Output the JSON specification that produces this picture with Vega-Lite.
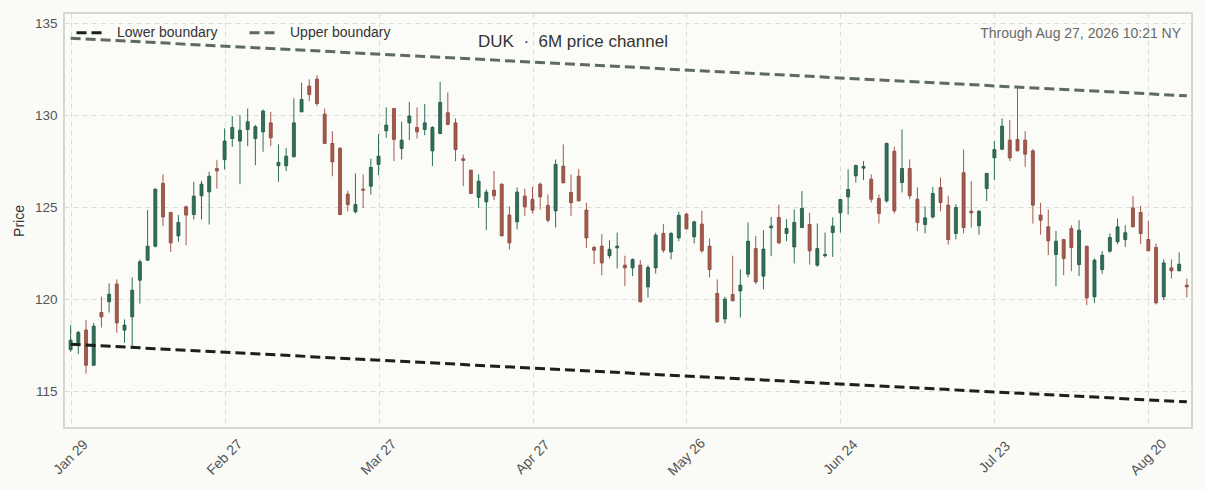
{
  "$schema": "https://vega.github.io/schema/vega-lite/v6.json",
  "width": 1128,
  "height": 415,
  "autosize": {"type": "none"},
  "padding": {"left": 64, "top": 13, "right": 13, "bottom": 62},
  "background": "#fafaf7",
  "config": {
    "font": "Liberation Sans",
    "view": {"stroke": "#d6d6d3", "strokeWidth": 2, "fill": "#fbfbf8"},
    "axis": {
      "domain": false,
      "grid": true,
      "gridColor": "#dcdcdc",
      "gridDash": [5, 4],
      "gridWidth": 1,
      "ticks": false,
      "labelFontSize": 13.5,
      "labelColor": "#555555",
      "titleFontSize": 14,
      "titleColor": "#333333",
      "titleFontWeight": "normal"
    },
    "legend": {
      "direction": "horizontal",
      "symbolType": "stroke",
      "symbolStrokeWidth": 3,
      "symbolSize": 900,
      "labelFontSize": 14,
      "labelColor": "#333333",
      "labelOffset": 9,
      "columnPadding": 25,
      "padding": 0
    }
  },
  "title": {
    "text": "DUK\u00a0\u00a0·\u00a0\u00a06M price channel",
    "frame": "group",
    "anchor": "middle",
    "dx": -55,
    "offset": -38,
    "fontSize": 17,
    "fontWeight": "normal",
    "color": "#333333"
  },
  "datasets": {
    "candles": [
      {"i": 0, "o": 117.26, "h": 118.59, "l": 117.14, "c": 117.77},
      {"i": 1, "o": 117.59, "h": 118.28, "l": 117.01, "c": 118.19},
      {"i": 2, "o": 118.32, "h": 118.86, "l": 115.96, "c": 116.41},
      {"i": 3, "o": 116.41, "h": 118.71, "l": 116.38, "c": 118.53},
      {"i": 4, "o": 119.28, "h": 120.13, "l": 118.46, "c": 119.04},
      {"i": 5, "o": 119.86, "h": 120.85, "l": 119.28, "c": 120.27},
      {"i": 6, "o": 120.82, "h": 121.07, "l": 118.17, "c": 118.71},
      {"i": 7, "o": 118.32, "h": 118.9, "l": 117.63, "c": 118.59},
      {"i": 8, "o": 119.04, "h": 121.18, "l": 117.45, "c": 120.49},
      {"i": 9, "o": 121.03, "h": 122.16, "l": 119.76, "c": 122.03},
      {"i": 10, "o": 122.12, "h": 124.84, "l": 122.08, "c": 122.88},
      {"i": 11, "o": 122.88, "h": 126.01, "l": 122.81, "c": 125.98},
      {"i": 12, "o": 126.29, "h": 126.79, "l": 123.97, "c": 124.47},
      {"i": 13, "o": 124.71, "h": 124.75, "l": 122.57, "c": 123.06},
      {"i": 14, "o": 123.44, "h": 124.57, "l": 123.12, "c": 124.17},
      {"i": 15, "o": 125.02, "h": 125.09, "l": 122.93, "c": 124.57},
      {"i": 16, "o": 124.6, "h": 126.38, "l": 124.33, "c": 125.6},
      {"i": 17, "o": 125.62, "h": 126.43, "l": 124.33, "c": 126.25},
      {"i": 18, "o": 125.83, "h": 126.92, "l": 124.06, "c": 126.68},
      {"i": 19, "o": 127.1, "h": 127.55, "l": 126.01, "c": 126.97},
      {"i": 20, "o": 127.59, "h": 129.28, "l": 127.05, "c": 128.59},
      {"i": 21, "o": 128.73, "h": 129.95, "l": 128.28, "c": 129.33},
      {"i": 22, "o": 128.59, "h": 130.0, "l": 126.25, "c": 129.18},
      {"i": 23, "o": 129.22, "h": 130.36, "l": 128.32, "c": 129.64},
      {"i": 24, "o": 128.73, "h": 129.46, "l": 127.28, "c": 129.37},
      {"i": 25, "o": 129.09, "h": 130.31, "l": 128.01, "c": 130.22},
      {"i": 26, "o": 129.58, "h": 130.18, "l": 128.32, "c": 128.77},
      {"i": 27, "o": 127.25, "h": 128.41, "l": 126.38, "c": 127.43},
      {"i": 28, "o": 127.25, "h": 128.22, "l": 126.96, "c": 127.77},
      {"i": 29, "o": 127.74, "h": 130.91, "l": 127.7, "c": 129.58},
      {"i": 30, "o": 130.18, "h": 131.76, "l": 130.16, "c": 130.85},
      {"i": 31, "o": 131.58, "h": 131.94, "l": 130.76, "c": 131.12},
      {"i": 32, "o": 131.96, "h": 132.17, "l": 130.49, "c": 130.63},
      {"i": 33, "o": 130.05, "h": 130.36, "l": 128.42, "c": 128.46},
      {"i": 34, "o": 128.46, "h": 129.13, "l": 126.68, "c": 127.46},
      {"i": 35, "o": 128.19, "h": 128.28, "l": 124.57, "c": 124.6},
      {"i": 36, "o": 125.71, "h": 125.89, "l": 124.78, "c": 125.14},
      {"i": 37, "o": 124.75, "h": 126.83, "l": 124.66, "c": 125.14},
      {"i": 38, "o": 125.98, "h": 126.78, "l": 124.96, "c": 125.92},
      {"i": 39, "o": 126.14, "h": 127.64, "l": 125.69, "c": 127.16},
      {"i": 40, "o": 127.32, "h": 128.97, "l": 126.74, "c": 127.77},
      {"i": 41, "o": 129.15, "h": 130.42, "l": 128.77, "c": 129.46},
      {"i": 42, "o": 130.36, "h": 130.38, "l": 127.5, "c": 128.68},
      {"i": 43, "o": 128.19, "h": 129.64, "l": 127.59, "c": 128.64},
      {"i": 44, "o": 129.58, "h": 130.72, "l": 128.64, "c": 129.95},
      {"i": 45, "o": 129.33, "h": 130.42, "l": 128.73, "c": 129.09},
      {"i": 46, "o": 129.22, "h": 130.6, "l": 128.91, "c": 129.58},
      {"i": 47, "o": 128.06, "h": 129.4, "l": 127.23, "c": 129.33},
      {"i": 48, "o": 129.0, "h": 131.81, "l": 128.97, "c": 130.69},
      {"i": 49, "o": 130.13, "h": 131.23, "l": 129.46, "c": 129.49},
      {"i": 50, "o": 129.58, "h": 129.82, "l": 127.5, "c": 128.13},
      {"i": 51, "o": 127.63, "h": 127.86, "l": 126.14, "c": 127.54},
      {"i": 52, "o": 127.01, "h": 127.03, "l": 125.71, "c": 125.74},
      {"i": 53, "o": 125.53, "h": 126.78, "l": 124.96, "c": 126.41},
      {"i": 54, "o": 125.29, "h": 125.96, "l": 123.75, "c": 125.82},
      {"i": 55, "o": 125.92, "h": 126.96, "l": 125.38, "c": 125.62},
      {"i": 56, "o": 126.25, "h": 126.29, "l": 123.42, "c": 123.44},
      {"i": 57, "o": 124.57, "h": 125.05, "l": 122.7, "c": 123.06},
      {"i": 58, "o": 124.2, "h": 126.07, "l": 123.79, "c": 125.82},
      {"i": 59, "o": 125.6, "h": 126.01, "l": 124.53, "c": 125.02},
      {"i": 60, "o": 125.42, "h": 126.1, "l": 124.66, "c": 124.84},
      {"i": 61, "o": 126.25, "h": 126.34, "l": 124.87, "c": 125.56},
      {"i": 62, "o": 125.09, "h": 125.69, "l": 124.17, "c": 124.29},
      {"i": 63, "o": 124.8, "h": 127.59, "l": 123.9, "c": 127.32},
      {"i": 64, "o": 127.23, "h": 128.41, "l": 126.3, "c": 126.32},
      {"i": 65, "o": 125.8, "h": 126.78, "l": 124.53, "c": 125.24},
      {"i": 66, "o": 126.68, "h": 127.07, "l": 125.32, "c": 125.34},
      {"i": 67, "o": 124.84, "h": 125.24, "l": 122.79, "c": 123.33},
      {"i": 68, "o": 122.81, "h": 122.9, "l": 121.9, "c": 122.66},
      {"i": 69, "o": 122.88, "h": 123.53, "l": 121.3, "c": 121.97},
      {"i": 70, "o": 122.36, "h": 123.2, "l": 122.21, "c": 122.71},
      {"i": 71, "o": 122.79, "h": 123.62, "l": 121.67, "c": 122.88},
      {"i": 72, "o": 121.85, "h": 122.36, "l": 120.71, "c": 121.7},
      {"i": 73, "o": 121.7, "h": 122.21, "l": 121.25, "c": 122.16},
      {"i": 74, "o": 121.85, "h": 122.12, "l": 119.82, "c": 119.86},
      {"i": 75, "o": 120.67, "h": 121.85, "l": 120.09, "c": 121.72},
      {"i": 76, "o": 121.7, "h": 123.61, "l": 121.39, "c": 123.48},
      {"i": 77, "o": 123.57, "h": 124.08, "l": 122.52, "c": 122.66},
      {"i": 78, "o": 122.57, "h": 123.66, "l": 122.16, "c": 123.57},
      {"i": 79, "o": 123.33, "h": 124.75, "l": 123.15, "c": 124.55},
      {"i": 80, "o": 124.62, "h": 124.69, "l": 123.8, "c": 123.82},
      {"i": 81, "o": 123.39, "h": 124.26, "l": 123.03, "c": 124.2},
      {"i": 82, "o": 124.08, "h": 124.8, "l": 122.52, "c": 122.63},
      {"i": 83, "o": 122.88, "h": 123.3, "l": 121.18, "c": 121.61},
      {"i": 84, "o": 120.31, "h": 121.07, "l": 118.71, "c": 118.77},
      {"i": 85, "o": 118.93, "h": 120.13, "l": 118.68, "c": 120.0},
      {"i": 86, "o": 120.25, "h": 122.36, "l": 119.89, "c": 119.91},
      {"i": 87, "o": 120.45, "h": 121.61, "l": 119.0, "c": 120.76},
      {"i": 88, "o": 121.36, "h": 124.17, "l": 121.18, "c": 123.15},
      {"i": 89, "o": 122.75, "h": 123.44, "l": 120.82, "c": 120.94},
      {"i": 90, "o": 121.25, "h": 123.75, "l": 120.54, "c": 122.72},
      {"i": 91, "o": 123.88, "h": 124.47, "l": 122.34, "c": 123.97},
      {"i": 92, "o": 124.44, "h": 125.14, "l": 122.99, "c": 123.06},
      {"i": 93, "o": 123.57, "h": 124.35, "l": 123.15, "c": 123.84},
      {"i": 94, "o": 122.84, "h": 124.87, "l": 121.94, "c": 124.17},
      {"i": 95, "o": 123.89, "h": 125.87, "l": 123.87, "c": 124.93},
      {"i": 96, "o": 124.06, "h": 124.69, "l": 121.88, "c": 122.63},
      {"i": 97, "o": 121.85, "h": 124.11, "l": 121.76, "c": 122.75},
      {"i": 98, "o": 122.36, "h": 123.62, "l": 122.26, "c": 122.43},
      {"i": 99, "o": 123.62, "h": 124.44, "l": 122.3, "c": 123.97},
      {"i": 100, "o": 124.69, "h": 125.43, "l": 123.62, "c": 125.42},
      {"i": 101, "o": 125.56, "h": 127.05, "l": 124.6, "c": 125.96},
      {"i": 102, "o": 126.7, "h": 127.32, "l": 126.34, "c": 127.26},
      {"i": 103, "o": 127.12, "h": 127.5, "l": 126.47, "c": 127.21},
      {"i": 104, "o": 126.52, "h": 126.78, "l": 125.25, "c": 125.43},
      {"i": 105, "o": 125.47, "h": 125.69, "l": 124.11, "c": 124.66},
      {"i": 106, "o": 125.34, "h": 128.51, "l": 125.24, "c": 128.46},
      {"i": 107, "o": 128.04, "h": 128.28, "l": 124.66, "c": 124.8},
      {"i": 108, "o": 126.34, "h": 129.22, "l": 125.8, "c": 127.1},
      {"i": 109, "o": 127.1, "h": 127.59, "l": 125.43, "c": 125.62},
      {"i": 110, "o": 125.43, "h": 126.07, "l": 123.7, "c": 124.17},
      {"i": 111, "o": 124.06, "h": 125.05, "l": 123.57, "c": 124.42},
      {"i": 112, "o": 124.47, "h": 126.1, "l": 124.38, "c": 125.74},
      {"i": 113, "o": 126.07, "h": 126.61, "l": 124.78, "c": 125.25},
      {"i": 114, "o": 125.11, "h": 125.62, "l": 122.97, "c": 123.24},
      {"i": 115, "o": 123.57, "h": 125.16, "l": 123.24, "c": 124.98},
      {"i": 116, "o": 126.87, "h": 128.13, "l": 123.57, "c": 123.89},
      {"i": 117, "o": 124.78, "h": 126.41, "l": 123.89, "c": 124.69},
      {"i": 118, "o": 123.99, "h": 124.84, "l": 123.51, "c": 124.78},
      {"i": 119, "o": 126.01, "h": 126.87, "l": 125.33, "c": 126.83},
      {"i": 120, "o": 127.68, "h": 128.59, "l": 126.47, "c": 128.13},
      {"i": 121, "o": 128.15, "h": 129.82, "l": 128.1, "c": 129.4},
      {"i": 122, "o": 128.64, "h": 129.73, "l": 127.5, "c": 127.68},
      {"i": 123, "o": 128.68, "h": 131.58, "l": 128.04, "c": 128.06},
      {"i": 124, "o": 128.64, "h": 129.13, "l": 127.19, "c": 127.88},
      {"i": 125, "o": 128.06, "h": 128.15, "l": 124.11, "c": 125.11},
      {"i": 126, "o": 124.57, "h": 125.24, "l": 123.51, "c": 124.29},
      {"i": 127, "o": 123.93, "h": 124.87, "l": 122.39, "c": 123.17},
      {"i": 128, "o": 122.43, "h": 123.71, "l": 120.71, "c": 123.15},
      {"i": 129, "o": 123.24, "h": 123.26, "l": 121.3, "c": 122.21},
      {"i": 130, "o": 123.84, "h": 124.02, "l": 121.52, "c": 122.81},
      {"i": 131, "o": 121.88, "h": 124.29, "l": 121.25, "c": 123.75},
      {"i": 132, "o": 122.88, "h": 122.9, "l": 119.67, "c": 120.07},
      {"i": 133, "o": 120.13, "h": 122.21, "l": 119.8, "c": 122.12},
      {"i": 134, "o": 121.61, "h": 122.61, "l": 121.39, "c": 122.39},
      {"i": 135, "o": 122.61, "h": 123.57, "l": 122.52, "c": 123.35},
      {"i": 136, "o": 123.12, "h": 124.38, "l": 122.99, "c": 123.93},
      {"i": 137, "o": 123.24, "h": 124.02, "l": 122.84, "c": 123.61},
      {"i": 138, "o": 124.96, "h": 125.62, "l": 123.91, "c": 123.93},
      {"i": 139, "o": 124.71, "h": 125.07, "l": 122.99, "c": 123.57},
      {"i": 140, "o": 123.24, "h": 124.26, "l": 122.61, "c": 122.63},
      {"i": 141, "o": 122.81, "h": 123.03, "l": 119.71, "c": 119.8},
      {"i": 142, "o": 120.13, "h": 122.16, "l": 119.95, "c": 121.97},
      {"i": 143, "o": 121.7, "h": 122.16, "l": 121.12, "c": 121.54},
      {"i": 144, "o": 121.54, "h": 122.54, "l": 121.52, "c": 121.9},
      {"i": 145, "o": 120.76, "h": 121.12, "l": 120.09, "c": 120.67}
    ],
    "channel": [
      {"series": "Lower boundary", "i": 0, "v": 117.55},
      {"series": "Lower boundary", "i": 145, "v": 114.42},
      {"series": "Upper boundary", "i": 0, "v": 134.18},
      {"series": "Upper boundary", "i": 145, "v": 131.05}
    ],
    "note": [
      {"i": 144.25, "v": 134.4, "label": "Through Aug 27, 2026 10:21 NY"}
    ]
  },
  "layer": [
    {
      "data": {"name": "candles"},
      "mark": {"type": "rule", "strokeWidth": 1},
      "encoding": {
        "x": {
          "field": "i",
          "type": "quantitative",
          "scale": {"domain": [-0.86, 145.67], "nice": false, "zero": false, "padding": 0},
          "axis": {
            "title": null,
            "values": [0, 20, 40, 60, 80, 100, 120, 140],
            "labelExpr": "['Jan 29','Feb 27','Mar 27','Apr 27','May 26','Jun 24','Jul 23','Aug 20'][datum.value / 20]",
            "labelAngle": -45,
            "labelAlign": "center",
            "labelBaseline": "middle",
            "labelPadding": 29,
            "labelFontSize": 14,
            "labelOverlap": false
          }
        },
        "y": {
          "field": "l",
          "type": "quantitative",
          "scale": {"domain": [113.0, 135.55], "nice": false, "zero": false, "padding": 0},
          "axis": {
            "title": "Price",
            "values": [115, 120, 125, 130, 135],
            "labelPadding": 7,
            "titlePadding": 8
          }
        },
        "y2": {"field": "h"},
        "color": {
          "condition": {"test": "datum.c >= datum.o", "value": "#2e7059"},
          "value": "#a5584c"
        }
      }
    },
    {
      "data": {"name": "candles"},
      "mark": {"type": "bar", "size": 3, "strokeWidth": 0.8},
      "encoding": {
        "x": {"field": "i", "type": "quantitative"},
        "y": {"field": "o", "type": "quantitative"},
        "y2": {"field": "c"},
        "color": {
          "condition": {"test": "datum.c >= datum.o", "value": "#2e7059"},
          "value": "#a5584c"
        },
        "stroke": {
          "condition": {"test": "datum.c >= datum.o", "value": "#21543f"},
          "value": "#86453b"
        }
      }
    },
    {
      "data": {"name": "channel"},
      "mark": {"type": "line", "strokeWidth": 3},
      "encoding": {
        "x": {"field": "i", "type": "quantitative"},
        "y": {"field": "v", "type": "quantitative"},
        "color": {
          "field": "series",
          "type": "nominal",
          "scale": {"domain": ["Lower boundary", "Upper boundary"], "range": ["#1b201d", "#5f6a65"]},
          "legend": {"title": null, "orient": "none", "legendX": 11, "legendY": 3}
        },
        "strokeDash": {
          "field": "series",
          "type": "nominal",
          "scale": {"domain": ["Lower boundary", "Upper boundary"], "range": [[10, 5], [10, 5]]},
          "legend": {"title": null, "orient": "none", "legendX": 11, "legendY": 3}
        }
      }
    },
    {
      "data": {"name": "note"},
      "mark": {"type": "text", "align": "right", "baseline": "middle", "fontSize": 14, "color": "#6a6a6a"},
      "encoding": {
        "x": {"field": "i", "type": "quantitative"},
        "y": {"field": "v", "type": "quantitative"},
        "text": {"field": "label"}
      }
    }
  ]
}
